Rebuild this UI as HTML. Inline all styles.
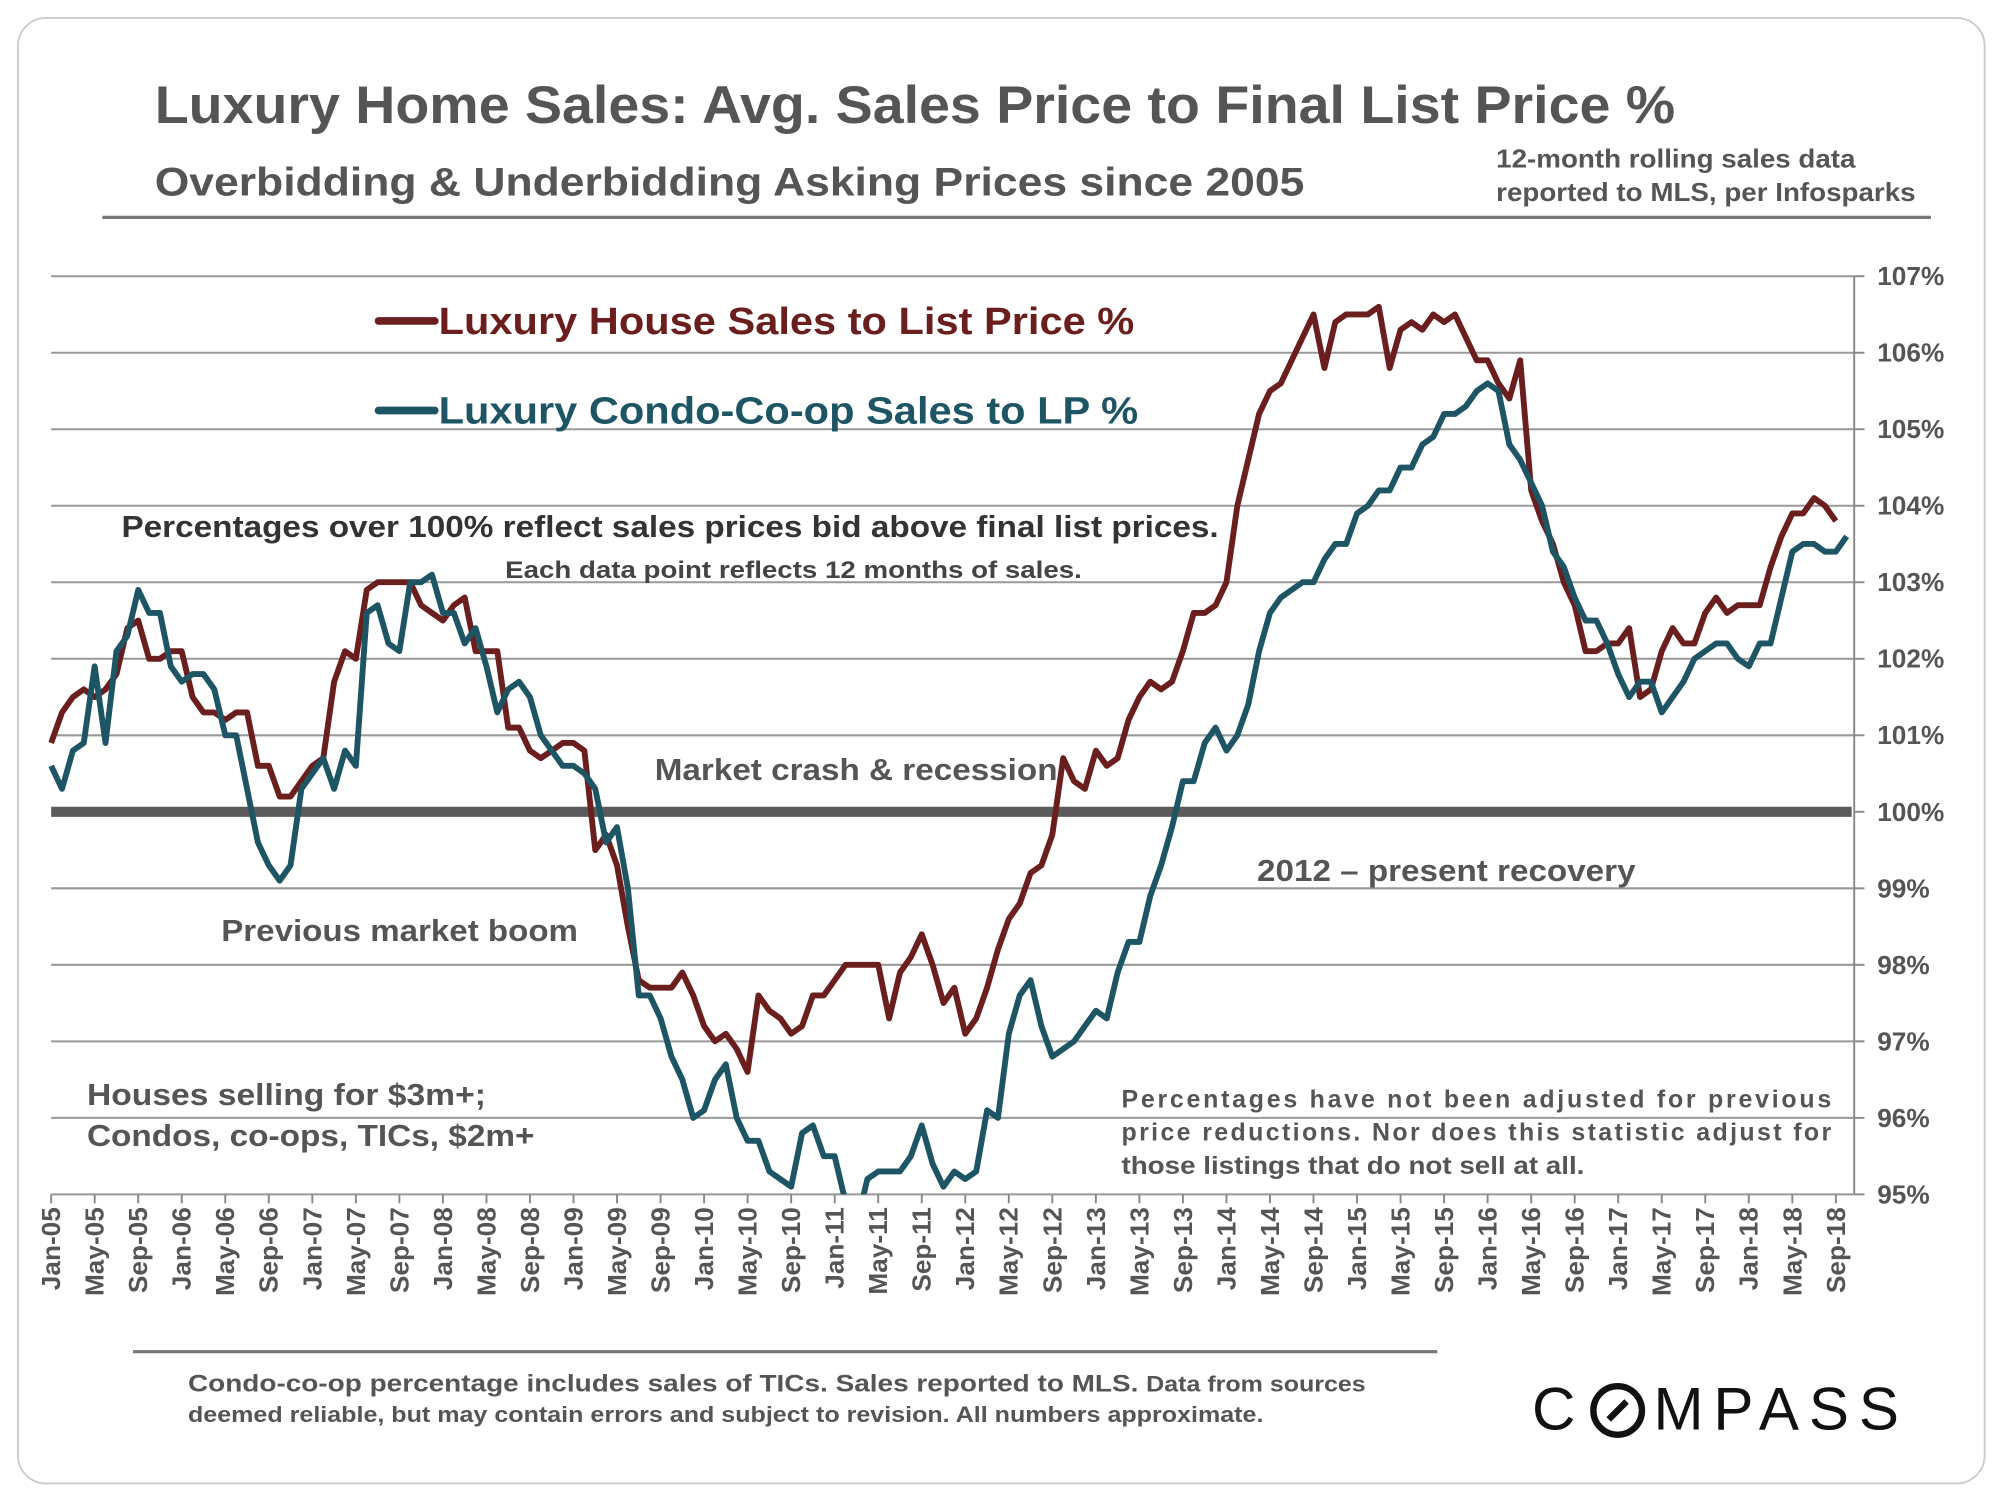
<!DOCTYPE html>
<html><head><meta charset="utf-8"><style>
html,body{margin:0;padding:0;background:#fff;}
svg{display:block;font-family:"Liberation Sans",Arial,sans-serif;}
</style></head><body>
<svg id="chart" width="2000" height="1500" viewBox="0 0 1564 1173" xmlns="http://www.w3.org/2000/svg">
<defs><clipPath id="plotclip"><rect x="38" y="210" width="1415" height="724"/></clipPath></defs>
<rect x="14" y="14" width="1538" height="1146" rx="22" fill="#fff" stroke="#ccc" stroke-width="1.5"/>
<text x="121" y="96" font-size="41" font-weight="bold" fill="#555" textLength="1189" lengthAdjust="spacingAndGlyphs">Luxury Home Sales: Avg. Sales Price to Final List Price %</text>
<text x="121" y="153" font-size="31" font-weight="bold" fill="#555" textLength="899" lengthAdjust="spacingAndGlyphs">Overbidding &amp; Underbidding Asking Prices since 2005</text>
<text font-size="20" font-weight="bold" fill="#555"><tspan x="1170" y="131" textLength="281" lengthAdjust="spacingAndGlyphs">12-month rolling sales data</tspan><tspan x="1170" y="157" textLength="328" lengthAdjust="spacingAndGlyphs">reported to MLS, per Infosparks</tspan></text>
<line x1="80" y1="170" x2="1510" y2="170" stroke="#777" stroke-width="2.5"/>
<g id="grid"></g>
<g id="yaxis"></g>
<g id="xaxis"></g>
<g id="series" clip-path="url(#plotclip)"></g>
<g>
<line x1="296" y1="251" x2="340" y2="251" stroke="#6b1e1e" stroke-width="6" stroke-linecap="round"/>
<text x="343" y="261" font-size="30" font-weight="bold" fill="#6b1e1e" textLength="544" lengthAdjust="spacingAndGlyphs">Luxury House Sales to List Price %</text>
<line x1="296" y1="321" x2="340" y2="321" stroke="#1d5565" stroke-width="6" stroke-linecap="round"/>
<text x="343" y="331" font-size="30" font-weight="bold" fill="#1d5565" textLength="547" lengthAdjust="spacingAndGlyphs">Luxury Condo-Co-op Sales to LP %</text>
</g>
<text x="95" y="420" font-size="24" font-weight="bold" fill="#333" textLength="858" lengthAdjust="spacingAndGlyphs">Percentages over 100% reflect sales prices bid above final list prices.</text>
<text x="395" y="452" font-size="19" font-weight="bold" fill="#444" textLength="451" lengthAdjust="spacingAndGlyphs">Each data point reflects 12 months of sales.</text>
<text x="512" y="610" font-size="24" font-weight="bold" fill="#555" textLength="315" lengthAdjust="spacingAndGlyphs">Market crash &amp; recession</text>
<text x="983" y="689" font-size="24" font-weight="bold" fill="#555" textLength="296" lengthAdjust="spacingAndGlyphs">2012 – present recovery</text>
<text x="173" y="736" font-size="24" font-weight="bold" fill="#555" textLength="279" lengthAdjust="spacingAndGlyphs">Previous market boom</text>
<text font-size="24" font-weight="bold" fill="#555"><tspan x="68" y="864" textLength="312" lengthAdjust="spacingAndGlyphs">Houses selling for $3m+;</tspan><tspan x="68" y="896" textLength="350" lengthAdjust="spacingAndGlyphs">Condos, co-ops, TICs, $2m+</tspan></text>
<text font-size="19.5" font-weight="bold" fill="#555"><tspan x="877" y="866" textLength="555" lengthAdjust="spacing">Percentages have not been adjusted for previous</tspan><tspan x="877" y="892" textLength="555" lengthAdjust="spacing">price reductions. Nor does this statistic adjust for</tspan><tspan x="877" y="918" textLength="362" lengthAdjust="spacingAndGlyphs">those listings that do not sell at all.</tspan></text>
<line x1="104" y1="1057" x2="1124" y2="1057" stroke="#777" stroke-width="2.5"/>
<text font-weight="bold" fill="#555"><tspan x="147" y="1088" font-size="19" textLength="921" lengthAdjust="spacingAndGlyphs">Condo-co-op percentage includes sales of TICs. Sales reported to MLS. <tspan font-size="17">Data from sources</tspan></tspan><tspan x="147" y="1112" font-size="17" textLength="841" lengthAdjust="spacingAndGlyphs">deemed reliable, but may contain errors and subject to revision. All numbers approximate.</tspan></text>
<g>
<text x="1198" y="1118" font-size="47" fill="#111">C</text>
<circle cx="1265" cy="1103" r="19" fill="none" stroke="#111" stroke-width="5"/>
<line x1="1258" y1="1110" x2="1272" y2="1096" stroke="#111" stroke-width="5"/>
<text x="1293" y="1118" font-size="47" fill="#111" textLength="192" lengthAdjust="spacing">MPASS</text>
</g>
<script>
const yTicks=[95,96,97,98,99,100,101,102,103,104,105,106,107];
const xLabels=["Jan-05","May-05","Sep-05","Jan-06","May-06","Sep-06","Jan-07","May-07","Sep-07","Jan-08","May-08","Sep-08","Jan-09","May-09","Sep-09","Jan-10","May-10","Sep-10","Jan-11","May-11","Sep-11","Jan-12","May-12","Sep-12","Jan-13","May-13","Sep-13","Jan-14","May-14","Sep-14","Jan-15","May-15","Sep-15","Jan-16","May-16","Sep-16","Jan-17","May-17","Sep-17","Jan-18","May-18","Sep-18"];
const houseValues=[100.9,101.3,101.5,101.6,101.5,101.6,101.8,102.4,102.5,102.0,102.0,102.1,102.1,101.5,101.3,101.3,101.2,101.3,101.3,100.6,100.6,100.2,100.2,100.4,100.6,100.7,101.7,102.1,102.0,102.9,103.0,103.0,103.0,103.0,102.7,102.6,102.5,102.7,102.8,102.1,102.1,102.1,101.1,101.1,100.8,100.7,100.8,100.9,100.9,100.8,99.5,99.7,99.3,98.5,97.8,97.7,97.7,97.7,97.9,97.6,97.2,97.0,97.1,96.9,96.6,97.6,97.4,97.3,97.1,97.2,97.6,97.6,97.8,98.0,98.0,98.0,98.0,97.3,97.9,98.1,98.4,98.0,97.5,97.7,97.1,97.3,97.7,98.2,98.6,98.8,99.2,99.3,99.7,100.7,100.4,100.3,100.8,100.6,100.7,101.2,101.5,101.7,101.6,101.7,102.1,102.6,102.6,102.7,103.0,104.0,104.6,105.2,105.5,105.6,105.9,106.2,106.5,105.8,106.4,106.5,106.5,106.5,106.6,105.8,106.3,106.4,106.3,106.5,106.4,106.5,106.2,105.9,105.9,105.6,105.4,105.9,104.2,103.8,103.5,103.0,102.7,102.1,102.1,102.2,102.2,102.4,101.5,101.6,102.1,102.4,102.2,102.2,102.6,102.8,102.6,102.7,102.7,102.7,103.2,103.6,103.9,103.9,104.1,104.0,103.8];
const condoValues=[100.6,100.3,100.8,100.9,101.9,100.9,102.1,102.3,102.9,102.6,102.6,101.9,101.7,101.8,101.8,101.6,101.0,101.0,100.3,99.6,99.3,99.1,99.3,100.3,100.5,100.7,100.3,100.8,100.6,102.6,102.7,102.2,102.1,103.0,103.0,103.1,102.6,102.6,102.2,102.4,101.9,101.3,101.6,101.7,101.5,101.0,100.8,100.6,100.6,100.5,100.3,99.6,99.8,99.0,97.6,97.6,97.3,96.8,96.5,96.0,96.1,96.5,96.7,96.0,95.7,95.7,95.3,95.2,95.1,95.8,95.9,95.5,95.5,94.9,94.6,95.2,95.3,95.3,95.3,95.5,95.9,95.4,95.1,95.3,95.2,95.3,96.1,96.0,97.1,97.6,97.8,97.2,96.8,96.9,97.0,97.2,97.4,97.3,97.9,98.3,98.3,98.9,99.3,99.8,100.4,100.4,100.9,101.1,100.8,101.0,101.4,102.1,102.6,102.8,102.9,103.0,103.0,103.3,103.5,103.5,103.9,104.0,104.2,104.2,104.5,104.5,104.8,104.9,105.2,105.2,105.3,105.5,105.6,105.5,104.8,104.6,104.3,104.0,103.4,103.2,102.8,102.5,102.5,102.2,101.8,101.5,101.7,101.7,101.3,101.5,101.7,102.0,102.1,102.2,102.2,102.0,101.9,102.2,102.2,102.8,103.4,103.5,103.5,103.4,103.4,103.6];
const NS='http://www.w3.org/2000/svg';
const X0=40,MONTH=8.51,Y107=216,Y95=934,XR=1450;
function xScale(i){return X0+i*MONTH;}
function yScale(v){return Y95-(v-95)*(Y95-Y107)/12;}
function mk(tag,attrs,parent){const e=document.createElementNS(NS,tag);for(const k in attrs)e.setAttribute(k,attrs[k]);parent.appendChild(e);return e;}
const grid=document.getElementById('grid'),yax=document.getElementById('yaxis'),xax=document.getElementById('xaxis'),ser=document.getElementById('series');
yTicks.forEach(v=>{
  const y=yScale(v);
  if(v!==100&&v!==95){const g=mk('line',{x1:X0,y1:y,x2:XR,y2:y,stroke:'#999','stroke-width':1.6},grid);
  
  }
  const t=mk('line',{x1:XR,y1:y,x2:XR+8,y2:y,stroke:'#888','stroke-width':1.5},yax);
  
  
  const l=mk('text',{x:XR+18,y:y+7,'font-size':20.5,'font-weight':'bold',fill:'#555'},yax);
  
  
  l.textContent=v+'%';
});
const ax=mk('line',{x1:XR,y1:Y107,x2:XR,y2:Y95,stroke:'#888','stroke-width':1.5},yax);


const bx=mk('line',{x1:X0,y1:Y95,x2:XR,y2:Y95,stroke:'#999','stroke-width':1.6},xax);


xLabels.forEach((s,k)=>{
  const x=xScale(k*4);
  const t=mk('line',{x1:x,y1:Y95,x2:x,y2:Y95+7,stroke:'#888','stroke-width':1.5},xax);
  
  
  const l=mk('text',{x:0,y:0,'font-size':20.5,'font-weight':'bold',fill:'#555','text-anchor':'end',transform:`translate(${x+7},${Y95+10}) rotate(-90)`},xax);
  
  
  l.textContent=s;
});
const base=mk('line',{x1:X0,y1:yScale(100),x2:XR-2,y2:yScale(100),stroke:'#5b5b5b','stroke-width':8},grid);


function drawLine(vals,color,name){
  const d=vals.map((v,i)=>(i?'L':'M')+xScale(i).toFixed(1)+','+yScale(v).toFixed(1)).join(' ');
  const p=mk('path',{d:d,fill:'none',stroke:color,'stroke-width':4.6,'stroke-linejoin':'round'},ser);
  
  
}
drawLine(houseValues,'#6b1e1e','house-series-line');
drawLine(condoValues,'#1d5565','condo-series-line');
</script>
</svg>
</body></html>
